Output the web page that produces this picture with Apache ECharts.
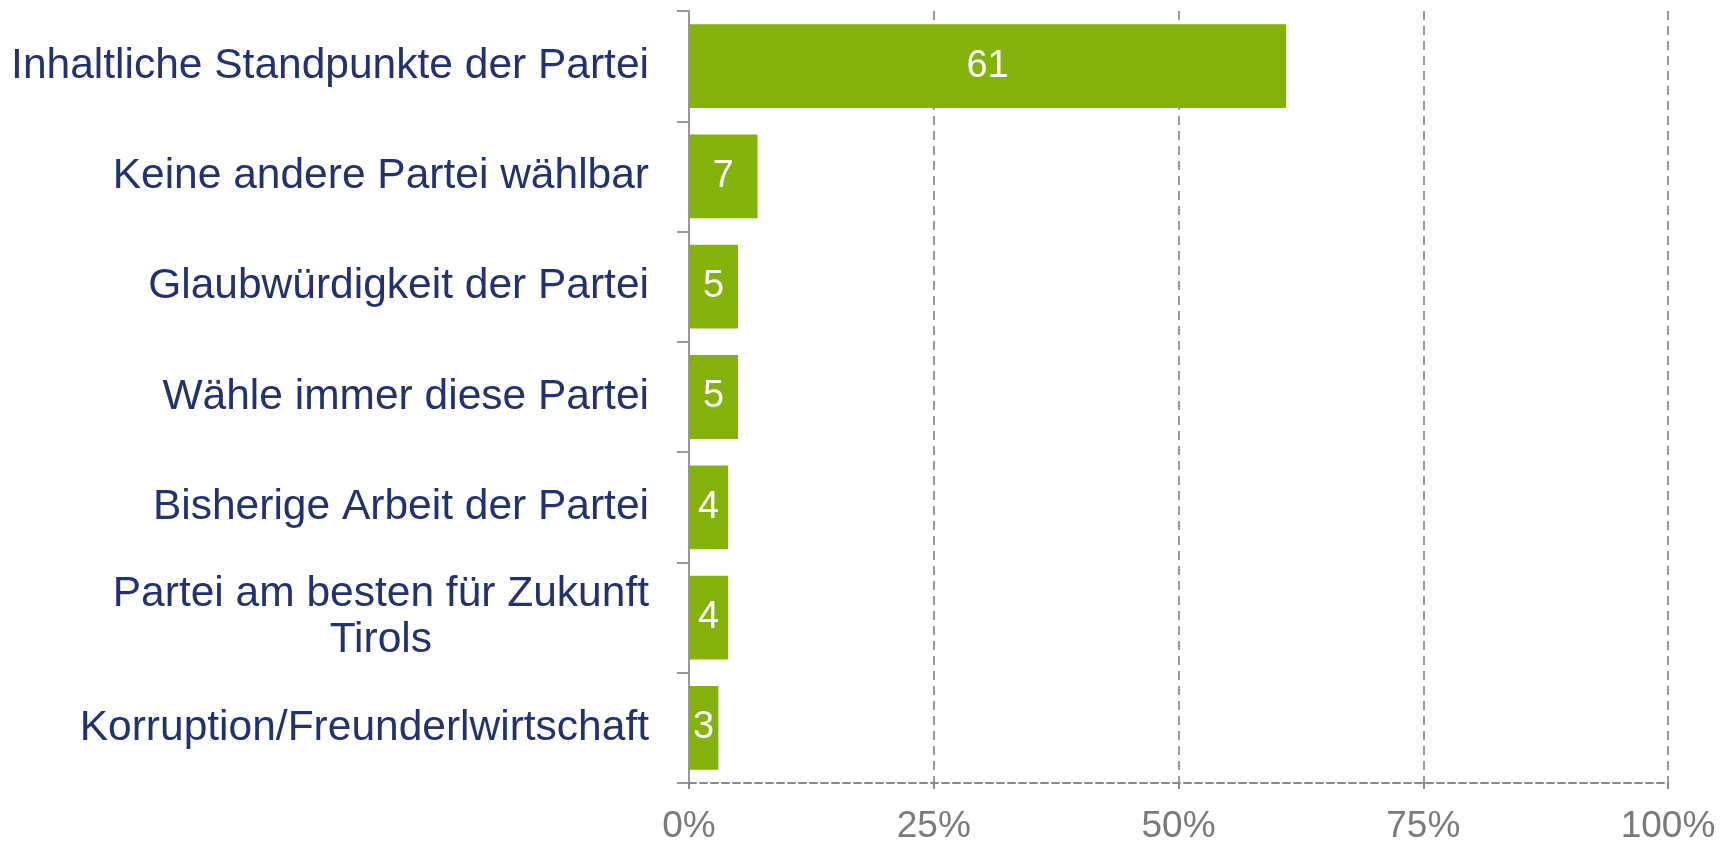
<!DOCTYPE html>
<html lang="de">
  <head>
    <meta charset="utf-8" />
    <title>Wahlmotive</title>
    <script src="https://cdn.jsdelivr.net/npm/echarts@6.0.0/dist/echarts.min.js"></script>
    <style>
      html, body { margin: 0; padding: 0; background: #fff; }
      #main { width: 1734px; height: 845px; }
    </style>
  </head>
  <body>
    <div id="main"></div>
    <script>
      // data (percent)
      var categories = [
        "Inhaltliche Standpunkte der Partei",
        "Keine andere Partei wählbar",
        "Glaubwürdigkeit der Partei",
        "Wähle immer diese Partei",
        "Bisherige Arbeit der Partei",
        "Partei am besten für Zukunft\nTirols",
        "Korruption/Freunderlwirtschaft"
      ];
      var values = [61, 7, 5, 5, 4, 4, 3];
      var tickLabels = ["0%", "25%", "50%", "75%", "100%"];

      var chart = echarts.init(document.getElementById("main"));

      var option = {
        animation: false,
        grid: { left: 689, right: 66, top: 11, bottom: 60 },
        xAxis: {
          type: "value",
          min: 0,
          max: 100,
          interval: 25,
          axisLine: {
            show: true,
            lineStyle: { color: "#888", width: 2, type: [7, 4] }
          },
          axisTick: {
            show: true,
            length: 6,
            lineStyle: { color: "#888", width: 2 }
          },
          splitLine: {
            show: true,
            lineStyle: { color: "#999", width: 2, type: [9, 6] }
          },
          axisLabel: {
            margin: 25,
            fontFamily: "Liberation Sans",
            fontSize: 37,
            color: "#7a7a7a",
            formatter: function (v) {
              return tickLabels[Math.round(v / 25)];
            }
          }
        },
        yAxis: {
          type: "category",
          data: categories,
          inverse: true,
          axisLine: { show: true, lineStyle: { color: "#999", width: 2 } },
          axisTick: {
            show: true,
            length: 12,
            lineStyle: { color: "#999", width: 2 }
          },
          axisLabel: {
            margin: 40,
            fontFamily: "Liberation Sans",
            fontSize: 42.5,
            color: "#22326f",
            lineHeight: 46,
            formatter: function (v) {
              if (v.indexOf("\n") < 0) return v;
              return v.split("\n").map(function (s) {
                return "{c|" + s + "}";
              }).join("\n");
            },
            rich: {
              c: {
                align: "center",
                fontFamily: "Liberation Sans",
                fontSize: 42.5,
                color: "#22326f",
                lineHeight: 46
              }
            }
          }
        },
        series: [
          {
            type: "bar",
            data: values,
            barCategoryGap: "24%",
            itemStyle: { color: "#83b20b" },
            label: {
              show: true,
              position: "inside",
              fontFamily: "Liberation Sans",
              fontSize: 38,
              color: "#fff"
            }
          }
        ]
      };

      chart.setOption(option);
    </script>
  </body>
</html>
